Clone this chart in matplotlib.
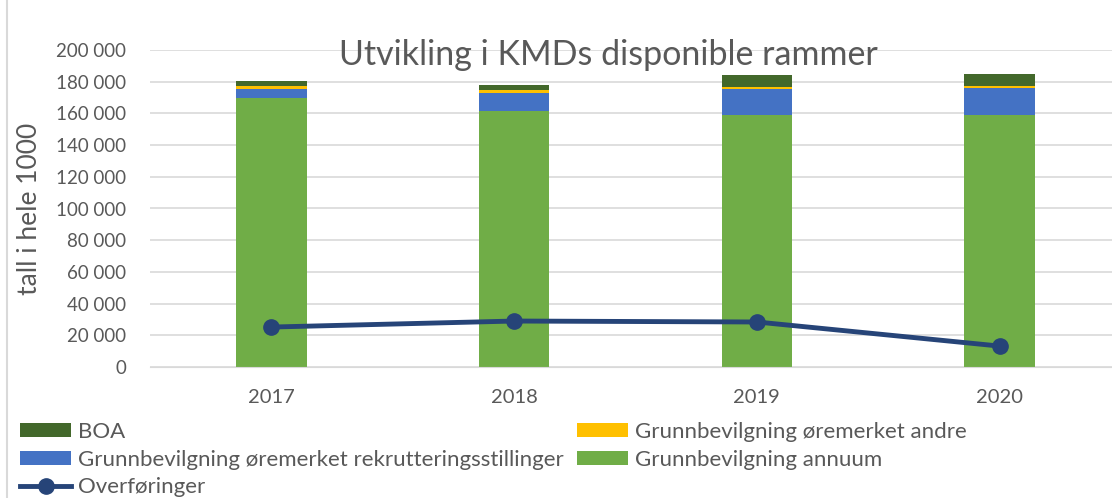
import matplotlib.pyplot as plt
from matplotlib.lines import Line2D
import numpy as np

plt.rcParams['font.family'] = ['Lato', 'DejaVu Sans']

# data (tall i hele 1000)
years = ['2017', '2018', '2019', '2020']
annuum = [170000, 161500, 159000, 159000]
rekrutt = [5600, 11500, 16400, 17000]
andre = [1500, 1800, 1300, 1500]
boa = [3300, 3100, 7500, 7400]
overforinger = [25200, 29000, 28400, 13200]

fig = plt.figure(figsize=(11.12, 4.98), dpi=100)
ax = fig.add_axes([150 / 1112, 131 / 498, 971 / 1112, 317 / 498])

x = np.arange(len(years))
w = 0.29
b1 = ax.bar(x, annuum, w, color='#70AD47', label='Grunnbevilgning annuum', zorder=2)
bottom = np.array(annuum)
b2 = ax.bar(x, rekrutt, w, bottom=bottom, color='#4472C4',
            label='Grunnbevilgning øremerket rekrutteringsstillinger', zorder=2)
bottom = bottom + np.array(rekrutt)
b3 = ax.bar(x, andre, w, bottom=bottom, color='#FFC000',
            label='Grunnbevilgning øremerket andre', zorder=2)
bottom = bottom + np.array(andre)
b4 = ax.bar(x, boa, w, bottom=bottom, color='#43682B', label='BOA', zorder=2)
ln, = ax.plot(x, overforinger, color='#264478', lw=3.5, marker='o', ms=11,
              label='Overføringer', zorder=3)

ax.set_xlim(-0.5, 3.5)
ax.set_ylim(0, 200000)
ax.set_yticks(range(0, 200001, 20000))
ax.set_yticklabels([f'{v:,}'.replace(',', ' ') for v in range(0, 200001, 20000)])
ax.set_xticks(x)
ax.set_xticklabels(years)
ax.grid(axis='y', color='#D9D9D9', lw=1.2, zorder=0)
for s in ['top', 'right', 'left']:
    ax.spines[s].set_visible(False)
ax.spines['bottom'].set_color('#D9D9D9')
ax.tick_params(axis='both', length=0, colors='#595959')
ax.tick_params(axis='x', pad=16, labelsize=14.5)
ax.tick_params(axis='y', pad=17, labelsize=13.5)
ax.set_ylabel('tall i hele 1000', fontsize=19, color='#595959', labelpad=10)

fig.text(0.547, 0.89, 'Utvikling i KMDs disponible rammer', fontsize=24.5,
         color='#595959', ha='center', va='center')

# chart frame on the left
fig.add_artist(Line2D([7 / 1112, 7 / 1112], [0, 1], color='#D9D9D9', lw=1.5))

handles = [b4, b2, ln, b3, b1]
labels = [h.get_label() for h in handles]
fig.legend(handles, labels, ncol=2, loc='upper left', bbox_to_anchor=(20 / 1112, 1 - 422 / 498),
           frameon=False, fontsize=16, labelcolor='#595959', handlelength=2.3,
           handleheight=0.6, handletextpad=0.3, columnspacing=0.6, labelspacing=0.34,
           borderaxespad=0, borderpad=0)

fig.savefig('out.png', dpi=100)
